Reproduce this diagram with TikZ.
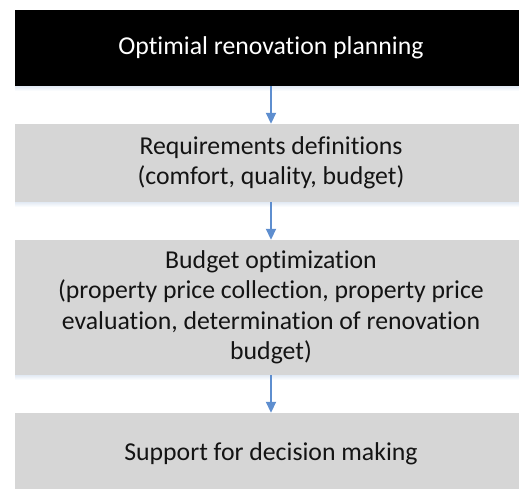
\documentclass[tikz,border=0pt]{standalone}
\usepackage{fontspec}
\setmainfont{Carlito}[Ligatures={NoCommon,NoContextual}]
\usetikzlibrary{arrows.meta}
\definecolor{boxgray}{RGB}{214,214,214}
\definecolor{flowblue}{RGB}{94,142,207}
\definecolor{shadowtint}{RGB}{226,234,244}
\definecolor{inktext}{RGB}{20,20,20}
\tikzset{
  stage/.style={rectangle, fill=boxgray, text=inktext, minimum width=512pt,
    align=center, inner sep=0pt, font=\fontsize{25.75}{30.5}\selectfont},
  headstage/.style={stage, fill=black, text=white},
  flow/.style={draw=flowblue, line width=1.8pt,
    -{Triangle[width=10pt,length=11pt]}},
  boxshade/.style={top color=shadowtint, bottom color=white, draw=none}
}
\begin{document}
\begin{tikzpicture}[x=1pt,y=-1pt]
  \useasboundingbox (0,0) rectangle (519,488);
  \clip (0,0) rectangle (519,488);
  % soft shade below each box
  \shade[boxshade] (15,86) rectangle (527,91);
  \shade[boxshade] (15,202) rectangle (527,207);
  \shade[boxshade] (15,375) rectangle (527,380);
  % process stages
  \node[headstage, minimum height=76pt] (plan) at (271,48)
    {Optimial renovation planning};
  \node[stage, minimum height=78pt] (req) at (271,163)
    {Requirements definitions\\(comfort, quality, budget)};
  \node[stage, minimum height=135pt] (budget) at (271,307.5)
    {Budget optimization\\(property price collection, property price\\evaluation, determination of renovation\\budget)};
  \node[stage, minimum height=82pt] (support) at (271,454)
    {Support for decision making};
  % flow between stages
  \draw[flow] (plan.south) -- (req.north);
  \draw[flow] (req.south) -- (budget.north);
  \draw[flow] (budget.south) -- (support.north);
\end{tikzpicture}
\end{document}
